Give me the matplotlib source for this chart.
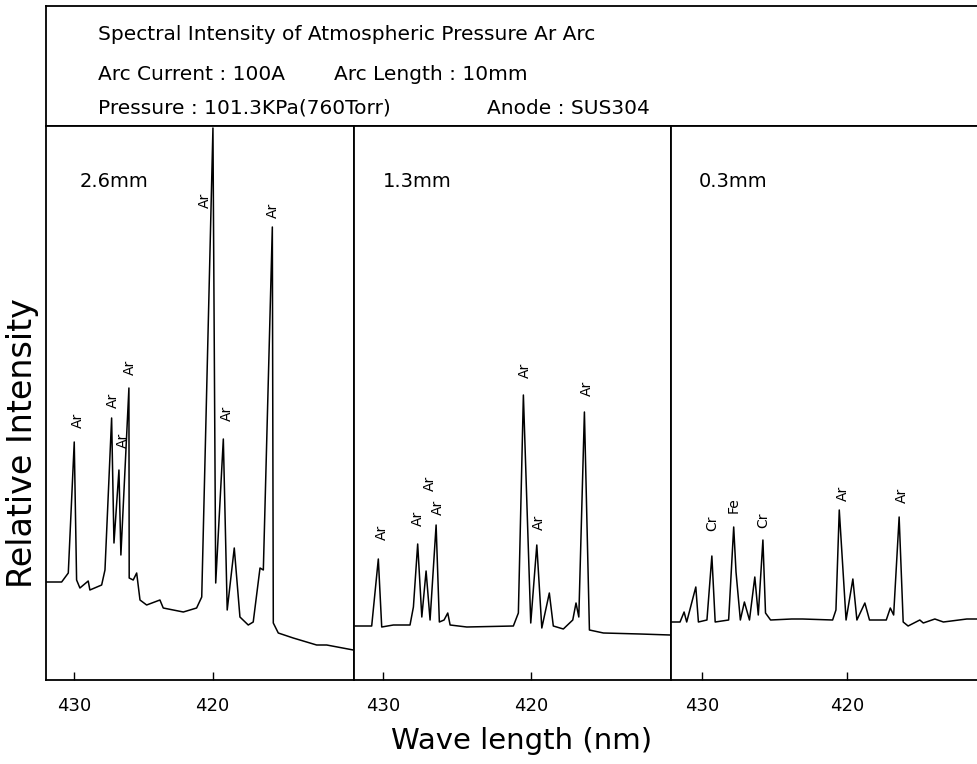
import numpy as np
import matplotlib
matplotlib.use("Agg")
import matplotlib.pyplot as plt

# spectra (wavelength in nm, intensity in arbitrary units)
wl_26 = [431.99, 430.91, 430.43, 430.00, 429.83, 429.59, 428.99, 428.87, 428.02, 427.78,
         427.30, 427.13, 426.77, 426.63, 426.05, 426.03, 425.74, 425.49, 425.25, 424.77,
         423.81, 423.57, 422.12, 421.16, 420.79, 419.98, 419.78, 419.23, 418.95, 418.44,
         418.03, 417.43, 417.07, 416.58, 416.34, 415.69, 415.62, 415.26, 414.18, 412.49,
         411.76, 409.84]
int_26 = [98, 98, 107, 238, 100, 92, 99, 90, 95, 110,
          262, 137, 210, 125, 292, 102, 100, 107, 80, 75,
          80, 72, 68, 72, 83, 552, 97, 241, 70, 132,
          63, 55, 58, 112, 110, 453, 57, 47, 42, 35,
          35, 30]

wl_13 = [431.92, 430.79, 430.34, 430.11, 429.32, 428.19, 427.96, 427.67, 427.39, 427.10,
         426.83, 426.42, 426.20, 425.88, 425.63, 425.47, 424.34, 421.18, 420.84, 420.50,
         420.00, 419.59, 419.25, 418.74, 418.47, 417.79, 417.15, 416.93, 416.74, 416.36,
         416.02, 415.07, 412.58, 410.55]
int_13 = [54, 54, 121, 53, 55, 55, 73, 136, 63, 109,
          60, 155, 58, 60, 67, 55, 53, 54, 67, 285,
          57, 135, 52, 87, 54, 51, 60, 77, 63, 268,
          50, 47, 46, 45]

wl_03 = [432.13, 431.55, 431.27, 431.09, 430.46, 430.28, 429.69, 429.35, 429.12, 428.19,
         427.84, 427.68, 427.38, 427.10, 426.75, 426.38, 426.14, 425.82, 425.64, 425.29,
         423.83, 423.08, 421.00, 420.77, 420.54, 420.07, 419.60, 419.32, 418.77, 418.45,
         417.29, 417.01, 416.78, 416.40, 416.12, 415.78, 414.97, 414.73, 413.93, 413.34,
         411.72, 410.82]
int_03 = [58, 58, 68, 58, 93, 58, 60, 124, 58, 60,
          153, 108, 60, 78, 60, 103, 65, 140, 67, 60,
          61, 61, 60, 70, 170, 60, 101, 60, 77, 60,
          60, 72, 65, 163, 58, 54, 60, 57, 61, 58,
          61, 61]

# line identifications: (element, wavelength, height of label centre)
lab_26 = [("Ar", 429.73, 260), ("Ar", 427.20, 280), ("Ar", 426.48, 240), ("Ar", 425.98, 313),
          ("Ar", 420.57, 480), ("Ar", 418.98, 267), ("Ar", 415.64, 470)]
lab_13 = [("Ar", 430.11, 148), ("Ar", 427.63, 162), ("Ar", 426.83, 197), ("Ar", 426.27, 173),
          ("Ar", 420.39, 310), ("Ar", 419.48, 158), ("Ar", 416.16, 292)]
lab_03 = [("Cr", 429.35, 157), ("Fe", 427.84, 175), ("Cr", 425.82, 160),
          ("Ar", 420.30, 187), ("Ar", 416.24, 185)]

distances = ["2.6mm", "1.3mm", "0.3mm"]
x_ranges = [(432.04, 409.79), (431.99, 410.52), (432.21, 410.67)]
tick_values = [430, 420]

W, H = 978, 764
fig = plt.figure(figsize=(W / 100, H / 100), dpi=100)


def px_box(x0, y0, x1, y1):
    # pixel box (top-left origin) -> figure fraction rect
    return [x0 / W, 1 - y1 / H, (x1 - x0) / W, (y1 - y0) / H]


# header box
hax = fig.add_axes(px_box(46, 6, 982, 126))
hax.set_xticks([])
hax.set_yticks([])
hax.spines["right"].set_visible(False)
for s in hax.spines.values():
    s.set_linewidth(1.3)

hfont = dict(family="DejaVu Sans", fontsize=14.5, va="center", ha="left")
fig.text(98 / W, 1 - 35 / H, "Spectral Intensity of Atmospheric Pressure Ar Arc", **hfont)
fig.text(98 / W, 1 - 75 / H, "Arc Current : 100A", **hfont)
fig.text(334 / W, 1 - 75 / H, "Arc Length : 10mm", **hfont)
fig.text(98 / W, 1 - 108 / H, "Pressure : 101.3KPa(760Torr)", **hfont)
fig.text(487 / W, 1 - 108 / H, "Anode : SUS304", **hfont)

panels = [(46, 354, wl_26, int_26, lab_26),
          (354, 670.5, wl_13, int_13, lab_13),
          (670.5, 982, wl_03, int_03, lab_03)]

for i, (x0, x1, wl, inten, labs) in enumerate(panels):
    ax = fig.add_axes(px_box(x0, 126, x1, 680))
    ax.plot(wl, inten, color="black", lw=1.1, clip_on=False)
    ax.set_xlim(*x_ranges[i])
    ax.set_ylim(0, 554)
    ax.set_yticks([])
    ax.set_xticks(tick_values)
    ax.set_xticklabels([str(t) for t in tick_values])
    ax.tick_params(axis="x", direction="in", length=6, width=1, pad=12, labelsize=13)
    for s in ax.spines.values():
        s.set_linewidth(1.3)
    if i == 2:
        ax.spines["right"].set_visible(False)
    for name, w, y in labs:
        ax.text(w, y, name, rotation=90, ha="center", va="center", fontsize=10)
    ax.text(0.11 if i == 0 else 0.09, 0.9, distances[i], transform=ax.transAxes,
            ha="left", va="center", fontsize=14)

fig.text(522 / W, 1 - 741 / H, "Wave length (nm)", ha="center", va="center", fontsize=21)
fig.text(23 / W, 1 - 443 / H, "Relative Intensity", ha="center", va="center",
         rotation=90, fontsize=24)

fig.savefig("out.png", dpi=100)
